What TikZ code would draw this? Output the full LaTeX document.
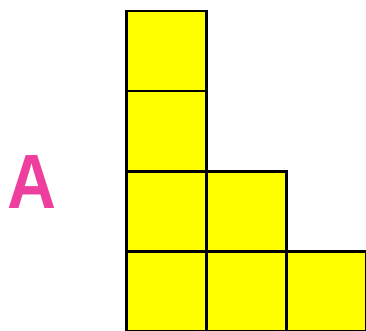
\documentclass[tikz,border=0pt]{standalone}
\usepackage{fontspec}
\setmainfont{Liberation Sans}
\definecolor{cellyellow}{HTML}{FFFF00}
\definecolor{letterpink}{HTML}{EE3F9E}
\begin{document}
\begin{tikzpicture}[x=1pt,y=-1pt,
  cell/.style={draw=black,fill=cellyellow,line width=2.5pt,minimum size=80pt,inner sep=0pt,anchor=north west},
  letter/.style={text=letterpink,font=\fontsize{77}{77}\selectfont\bfseries,inner sep=0pt,xscale=0.88}]
\useasboundingbox (0,0) rectangle (366,331);
\node[cell] (c11) at (125,10) {};
\node[cell] (c12) at (125,90) {};
\node[cell] (c13) at (125,170) {};
\node[cell] (c14) at (125,250) {};
\node[cell] (c23) at (205,170) {};
\node[cell] (c24) at (205,250) {};
\node[cell] (c34) at (285,250) {};
\node[letter,anchor=center] (lab) at (32,182.5) {A};
\end{tikzpicture}
\end{document}
